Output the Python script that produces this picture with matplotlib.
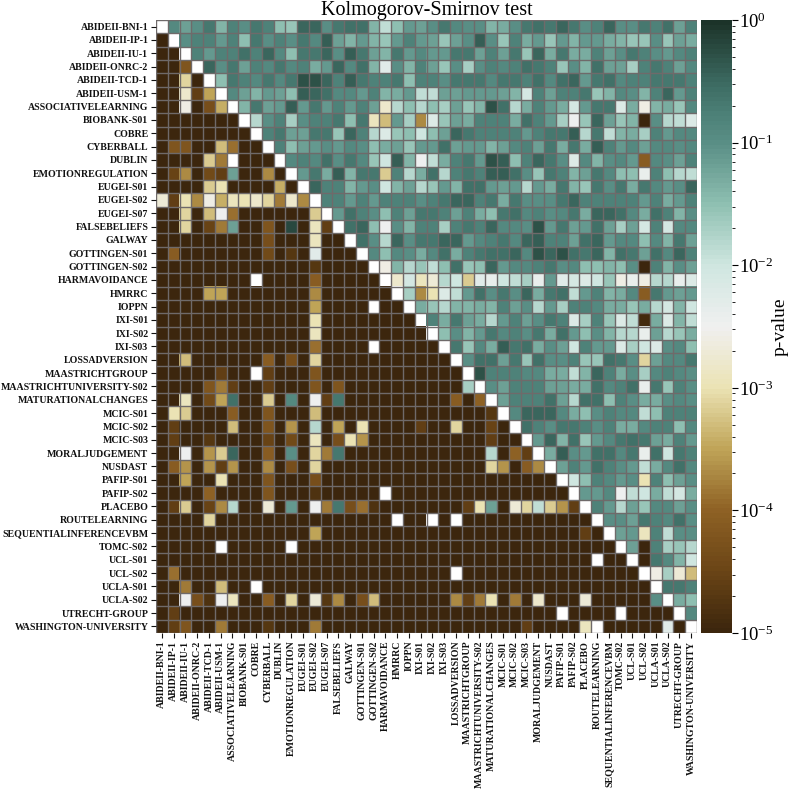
import numpy as np
import matplotlib
matplotlib.use("Agg")
import matplotlib.pyplot as plt
from matplotlib.colors import LinearSegmentedColormap, LogNorm
from matplotlib.cm import ScalarMappable

plt.rcParams['font.family'] = ['Liberation Serif', 'DejaVu Serif']
plt.rcParams['mathtext.fontset'] = 'stix'

labels = ["ABIDEII-BNI-1", "ABIDEII-IP-1", "ABIDEII-IU-1", "ABIDEII-ONRC-2", "ABIDEII-TCD-1", "ABIDEII-USM-1",
          "ASSOCIATIVELEARNING", "BIOBANK-S01", "COBRE", "CYBERBALL", "DUBLIN", "EMOTIONREGULATION",
          "EUGEI-S01", "EUGEI-S02", "EUGEI-S07", "FALSEBELIEFS", "GALWAY", "GOTTINGEN-S01", "GOTTINGEN-S02",
          "HARMAVOIDANCE", "HMRRC", "IOPPN", "IXI-S01", "IXI-S02", "IXI-S03", "LOSSADVERSION", "MAASTRICHTGROUP",
          "MAASTRICHTUNIVERSITY-S02", "MATURATIONALCHANGES", "MCIC-S01", "MCIC-S02", "MCIC-S03", "MORALJUDGEMENT",
          "NUSDAST", "PAFIP-S01", "PAFIP-S02", "PLACEBO", "ROUTELEARNING", "SEQUENTIALINFERENCEVBM", "TOMC-S02",
          "UCL-S01", "UCL-S02", "UCLA-S01", "UCLA-S02", "UTRECHT-GROUP", "WASHINGTON-UNIVERSITY"]

N = np.nan
# p-values as -10*log10(p); N = blank cell
minus_log_p_x10 = [
 [N,9,12,10,7,14,8,10,7,8,15,16,5,5,10,7,6,6,14,19,15,11, 12,10,7,9,10,10,14,13,10,7,6,7,5,7,10,8,5,10,10,7, 8,6,12,8],
 [50,N,10,8,8,11,8,15,7,10,8,10,7,9,4,12,14,11,14,16,11,8, 11,12,16,12,10,4,10,16,8,13,11,16,11,14,11,11,13,14,16,16, 10,16,12,13],
 [50,50,N,8,11,8,8,6,8,5,9,15,7,7,5,10,4,7,12,14,7,11, 9,11,11,7,7,12,8,12,7,16,5,13,7,13,13,8,12,10,7,8, 10,11,9,8],
 [50,50,42,N,5,10,7,12,8,9,7,9,8,13,11,5,9,6,14,23,10,14, 8,12,16,10,17,10,8,9,8,6,7,8,16,10,14,6,12,12,17,8, 7,8,12,9],
 [50,50,31,50,N,15,7,8,9,7,9,7,3,3,5,8,4,7,8,8,7,15, 8,8,10,7,7,7,9,7,7,8,6,9,6,5,11,7,6,9,8,8, 7,7,7,8],
 [50,50,28,46,35,N,9,12,14,11,12,15,4,5,6,9,9,11,8,14,13,11, 19,19,12,12,11,11,11,12,14,21,8,12,8,8,7,16,14,9,10,14, 8,5,11,8],
 [50,50,26,50,43,34,N,14,7,12,11,4,11,7,11,8,11,8,12,28,18,15, 18,15,17,12,16,14,3,6,18,13,8,11,13,21,11,7,7,22,13,26, 14,13,16,9],
 [50,50,50,50,50,50,50,N,18,10,8,17,10,8,8,7,15,7,29,33,11,17, 37,22,16,12,13,8,8,8,13,6,8,11,17,25,16,5,12,16,14,50, 10,18,19,22],
 [50,50,50,50,50,50,50,50,N,8,7,12,12,7,7,16,5,8,18,22,16,15, 20,15,12,5,7,8,8,8,8,11,8,7,7,4,18,7,19,14,13,17, 8,11,9,9],
 [50,42,42,50,50,33,39,50,50,N,8,15,12,11,10,11,9,10,15,13,12,16, 11,11,6,12,11,11,14,12,9,8,12,7,13,7,13,4,8,11,9,12, 9,9,10,9],
 [50,50,50,50,32,38,N,50,50,50,N,9,8,9,6,10,7,9,16,20,4,14, 25,19,13,8,7,11,3,4,15,8,5,7,10,22,9,14,10,9,11,41, 9,10,12,8],
 [50,45,37,50,44,46,12,50,50,37,50,N,11,7,13,4,14,7,7,32,8,18, 13,6,18,8,7,8,4,4,6,10,16,7,8,14,12,7,9,15,15,24, 8,15,18,19],
 [50,50,50,50,32,30,50,50,50,50,34,50,N,5,8,8,14,11,10,20,14,12, 18,16,11,14,6,6,11,12,11,18,11,13,7,14,16,7,10,7,13,7, 9,11,10,5],
 [27,46,30,37,26,34,29,30,28,31,38,28,37,N,8,8,11,8,11,8,8,8, 10,8,7,5,5,8,7,13,7,10,10,10,7,5,8,8,8,8,8,11, 8,13,11,8],
 [50,50,31,50,33,25,39,50,50,50,50,50,50,32,N,11,6,8,10,15,8,12, 7,7,8,12,8,13,15,7,6,9,8,10,9,7,13,5,5,6,9,13, 6,8,14,10],
 [50,50,31,50,45,38,12,50,50,42,50,2,50,29,46,N,6,5,15,25,10,14, 8,8,17,8,7,8,5,9,9,10,3,11,7,12,11,6,12,17,12,21, 8,21,9,9],
 [50,50,50,50,50,50,50,50,50,43,50,50,50,29,50,50,N,6,10,18,5,10, 7,7,5,5,11,9,8,7,9,5,4,8,8,12,6,5,11,9,9,15, 9,14,7,12],
 [50,41,50,50,50,50,50,50,50,44,50,47,50,23,50,50,50,N,9,15,9,10, 13,9,6,13,8,7,6,6,5,9,3,5,3,6,7,5,14,6,7,12, 6,9,5,8],
 [50,50,50,50,50,50,50,50,50,50,50,50,50,47,50,50,50,50,N,26,14,18, 16,19,15,6,16,15,5,11,9,9,8,7,10,9,15,15,14,15,10,50, 8,14,10,12],
 [50,50,50,50,50,50,50,50,N,50,50,50,50,41,50,50,50,50,50,N,28,21, 29,27,18,20,32,23,24,20,19,17,24,11,23,21,22,20,16,26,24,26, 18,18,24,22],
 [50,50,50,50,35,35,50,50,50,50,50,50,50,37,50,50,50,50,50,50,N,17, 37,30,22,19,11,6,10,7,10,5,13,7,6,19,11,8,14,13,9,41, 7,11,12,11],
 [50,50,50,50,50,50,50,50,50,50,50,50,50,35,50,50,50,50,N,50,50,N, 13,16,18,14,14,13,14,8,12,10,18,11,17,8,8,9,13,13,16,13, 18,21,14,20],
 [50,50,50,50,50,50,50,50,50,50,50,50,50,30,50,50,50,50,50,50,50,50, N,8,13,7,12,13,18,11,8,12,10,7,8,22,17,8,16,22,19,49, 13,22,14,19],
 [50,50,50,50,50,50,50,50,50,50,50,50,50,29,50,50,50,50,50,50,50,50, 50,N,15,10,14,11,7,9,8,10,7,13,6,11,15,10,14,18,18,24, 12,18,16,13],
 [50,50,50,50,50,50,50,50,50,50,50,50,50,39,50,50,50,50,N,50,50,50, 50,50,N,7,16,9,13,4,7,6,13,10,12,20,8,11,11,22,17,20, 22,10,9,15],
 [50,50,33,50,50,50,50,50,50,41,50,43,50,31,50,50,50,50,50,50,50,50, 50,50,50,N,10,6,6,12,7,16,6,10,10,8,16,16,6,7,10,31, 12,9,9,7],
 [50,50,50,50,50,46,50,50,N,46,50,50,50,42,50,50,50,50,50,50,50,50, 50,50,50,50,N,3,8,8,8,9,9,13,13,19,14,5,8,13,10,17, 9,8,9,10],
 [50,50,50,50,42,38,46,50,50,46,50,50,50,42,50,42,50,50,50,50,50,50, 50,50,50,50,17,N,10,12,8,8,8,12,12,13,13,6,9,8,6,24, 7,16,8,10],
 [50,50,29,50,44,35,6,50,50,32,50,9,50,25,46,7,50,50,50,50,50,50, 50,50,50,41,50,40,N,12,8,8,8,6,12,18,6,6,15,8,10,13, 13,10,9,10],
 [50,30,32,50,50,50,41,50,50,42,50,50,50,33,50,50,50,50,50,50,50,50, 50,50,50,50,50,50,47,N,9,5,5,5,9,13,15,10,8,9,9,19, 15,8,8,8],
 [50,46,50,50,50,50,33,50,50,42,50,36,50,18,50,35,50,30,50,50,50,50, 46,50,50,31,50,50,45,50,N,6,8,10,7,7,8,10,8,13,13,9, 8,8,15,9],
 [50,46,50,50,47,50,50,50,50,45,50,44,50,29,50,43,30,36,50,50,50,50, 50,50,50,50,50,50,46,50,50,N,11,5,14,6,16,11,9,7,6,7, 12,13,8,11],
 [50,50,25,50,36,32,5,50,50,41,50,10,50,31,38,7,50,50,50,50,50,50, 50,50,50,50,50,50,18,50,40,46,N,13,4,10,11,6,6,9,7,24, 6,20,7,8],
 [50,41,36,50,36,46,36,50,50,37,50,43,50,31,50,50,50,50,50,50,50,50, 50,50,50,50,50,50,31,36,50,41,37,N,12,8,11,6,8,10,11,19, 13,9,6,9],
 [50,50,35,50,50,30,50,50,50,42,50,50,50,43,50,50,50,50,50,50,50,50, 50,50,50,50,50,50,50,50,50,50,50,50,N,20,15,8,9,11,10,30, 8,15,12,10],
 [50,50,50,50,40,50,50,50,50,42,50,50,50,48,50,50,50,50,50,N,50,50, 50,50,50,50,50,50,50,50,50,50,50,50,50,N,11,11,9,25,19,20, 13,19,21,13],
 [50,46,32,50,45,37,18,50,50,27,50,11,50,25,38,7,43,39,48,50,50,50, 50,50,50,50,46,30,12,50,27,31,19,32,36,46,N,8,11,18,12,16, 9,9,12,10],
 [50,50,50,50,31,50,50,50,50,50,50,50,50,50,50,50,50,50,50,50,N,50, 50,N,50,N,50,50,50,50,50,50,50,50,50,50,50,N,10,10,12,7, 8,9,6,10],
 [50,50,50,50,50,50,50,50,50,50,50,50,50,35,50,50,50,50,50,50,50,50, 50,50,50,50,50,50,50,50,50,50,50,50,50,50,46,50,N,12,11,29, 8,19,10,10],
 [50,50,50,50,50,N,50,50,50,50,50,N,50,50,50,50,50,50,50,50,50,50, 50,50,50,50,50,50,50,50,50,50,50,50,50,50,50,50,50,N,12,50, 8,17,16,18],
 [50,50,50,50,50,50,50,50,50,50,50,50,50,50,50,50,50,50,50,50,50,50, 50,50,50,50,50,50,50,50,50,50,50,50,50,50,50,N,50,50,N,50, 7,9,14,20],
 [50,39,50,50,50,50,50,50,50,50,50,50,50,50,50,50,50,50,50,50,50,50, 50,50,50,N,50,50,50,50,50,50,50,50,50,50,50,50,50,50,50,N, 26,17,27,33],
 [50,50,38,50,50,33,50,50,N,50,50,50,50,50,50,50,50,50,50,50,50,50, 50,50,50,50,50,50,50,50,50,50,50,50,50,50,50,50,50,50,50,50, N,7,7,8],
 [50,50,25,43,48,25,29,50,50,41,50,31,50,27,47,37,50,43,33,50,50,50, 50,50,50,37,46,38,30,50,38,50,28,50,50,50,27,50,50,50,50,50, 10,N,13,15],
 [50,46,50,50,50,50,50,50,50,50,50,50,50,50,50,50,50,50,50,50,50,50, 50,50,50,50,50,50,50,50,50,50,50,50,N,50,50,50,50,N,50,50, 50,50,N,9],
 [50,46,42,50,50,38,50,50,50,47,50,50,50,38,50,50,50,50,50,50,50,50, 50,50,50,50,50,50,50,50,50,46,50,50,50,50,29,N,50,50,50,50, 50,23,50,N],
]

exponents = [-5, -4.5, -4, -3.5, -3, -2.5, -2, -1.5, -1, -0.75, -0.5, 0]
cmap_colors = ['#3c260d', '#6b4516', '#8f6225', '#c0a558', '#ebe3b4', '#f0f0f0', '#cfe6e0', '#8fc0b2', '#5a8f86', '#4c8077', '#3c6a61', '#1c3329']
positions = [(e + 5) / 5 for e in exponents]
cmap = LinearSegmentedColormap.from_list('pv', list(zip(positions, cmap_colors)), N=128)
cmap.set_bad('white')
norm = LogNorm(vmin=1e-5, vmax=1)

W, H = 789, 793
fig = plt.figure(figsize=(W / 100, H / 100), dpi=100)
ax = fig.add_axes([156 / W, 1 - 633 / H, 541 / W, 613 / H])
grid_color = '#6f6a6a'

pvals = 10.0 ** (-np.array(minus_log_p_x10, dtype=float) / 10)
n = len(labels)
ax.imshow(np.ma.masked_invalid(pvals), cmap=cmap, norm=norm, aspect='auto', interpolation='nearest',
          extent=(0, n, n, 0))
ax.set_xticks(np.arange(n + 1), minor=True)
ax.set_yticks(np.arange(n + 1), minor=True)
ax.grid(which='minor', color=grid_color, linewidth=1.0)
ax.tick_params(which='minor', length=0)
ax.set_axisbelow(False)
ax.set_xticks(np.arange(n) + 0.5)
ax.set_yticks(np.arange(n) + 0.5)
ax.set_xticklabels(labels, rotation=90, fontsize=7.1, fontweight='bold', color='#111111')
ax.set_yticklabels(labels, fontsize=7.1, fontweight='bold', color='#111111')
ax.tick_params(which='major', length=3.5, width=0.8, pad=2, colors='#111111')
for s in ax.spines.values():
    s.set_visible(False)
ax.set_title('Kolmogorov-Smirnov test', fontsize=14.5, pad=3)

cax = fig.add_axes([701 / W, 1 - 633 / H, 31 / W, 613 / H])
cb = fig.colorbar(ScalarMappable(norm=norm, cmap=cmap), cax=cax)
cb.outline.set_visible(False)
cb.ax.tick_params(which='major', labelsize=13.5, length=4, width=0.8, pad=1)
cb.ax.tick_params(which='minor', length=2.5, width=0.6)
cb.set_label('p-value', fontsize=14, rotation=90, va='center', ha='center')
cb.ax.yaxis.set_label_coords(2.55, 0.5)
fig.savefig('out.png', dpi=100)
